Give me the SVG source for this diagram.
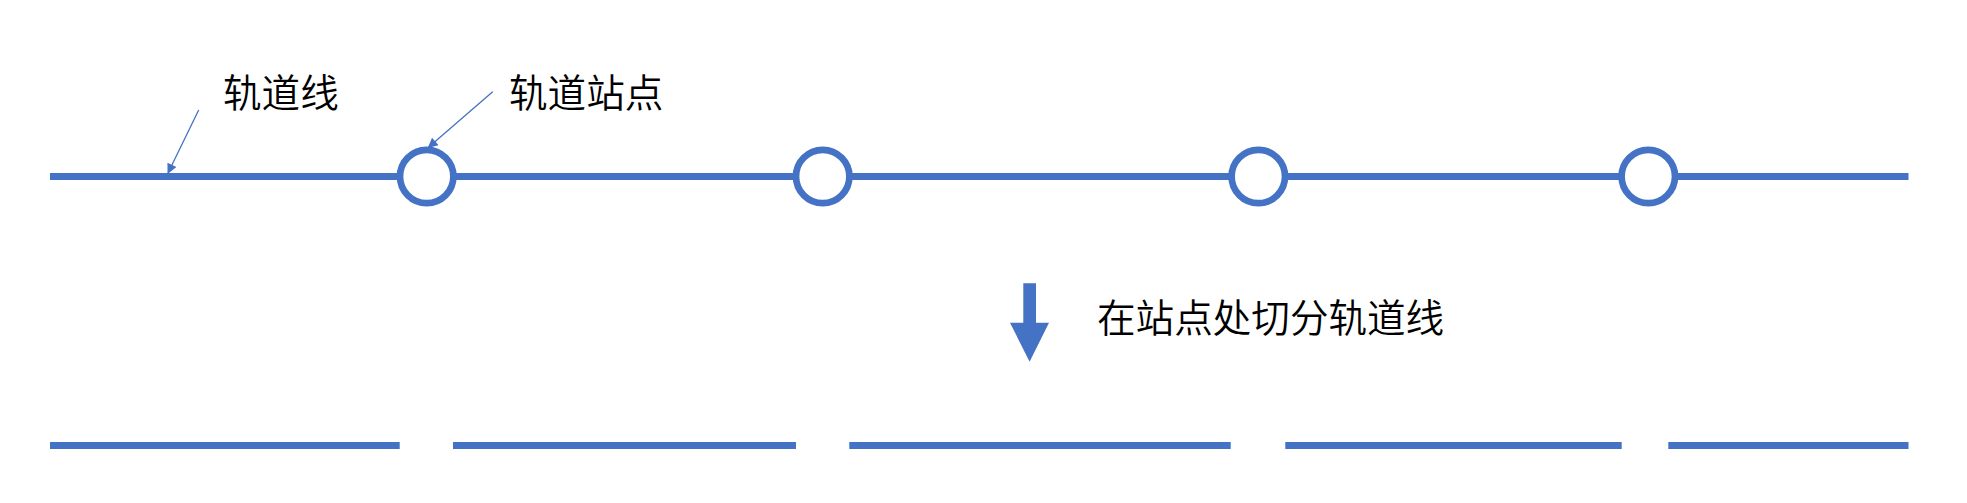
<svg xmlns="http://www.w3.org/2000/svg" width="1967" height="503" viewBox="0 0 1967 503">
<style>
.track{stroke:#4472C4;stroke-width:7;fill:none}
.station{stroke:#4472C4;stroke-width:6.7;fill:#FFFFFF}
.lead{stroke:#4472C4;stroke-width:1.3;fill:none}
.lbl{font-family:"Noto Sans CJK SC","Microsoft YaHei",sans-serif;font-size:38.6px;font-weight:350;fill:#000000}
</style>
<defs>
<marker id="ah" viewBox="0 0 10 10" refX="9" refY="5" markerWidth="12" markerHeight="10" markerUnits="userSpaceOnUse" orient="auto">
<path d="M0,0 L10,5 L0,10 Z" fill="#4472C4"/>
</marker>
</defs>
<rect width="1967" height="503" fill="#FFFFFF"/>
<g id="connectors">
<line class="track" x1="50" y1="176.5" x2="1908.5" y2="176.5"/>
<line class="lead" x1="198.7" y1="110" x2="168" y2="173" marker-end="url(#ah)"/>
<line class="lead" x1="492.7" y1="91.7" x2="428.5" y2="147.3" marker-end="url(#ah)"/>
</g>
<g id="station1"><circle class="station" cx="426.7" cy="176.5" r="26.7"/></g>
<g id="station2"><circle class="station" cx="822.7" cy="176.5" r="26.7"/></g>
<g id="station3"><circle class="station" cx="1258.3" cy="176.5" r="26.7"/></g>
<g id="station4"><circle class="station" cx="1648.3" cy="176.5" r="26.7"/></g>
<g id="label-track"><text class="lbl" x="223" y="107">轨道线</text></g>
<g id="label-station"><text class="lbl" x="509" y="107">轨道站点</text></g>
<g id="split-arrow"><path d="M1023.3,283.3 H1036 V322.7 H1049 L1029.6,361.7 L1010,322.7 H1023.3 Z" fill="#4472C4"/></g>
<g id="label-split"><text class="lbl" x="1097" y="332">在站点处切分轨道线</text></g>
<g id="segments">
<line class="track" x1="50" y1="445.5" x2="399.7" y2="445.5"/>
<line class="track" x1="453" y1="445.5" x2="796" y2="445.5"/>
<line class="track" x1="849.3" y1="445.5" x2="1230.7" y2="445.5"/>
<line class="track" x1="1285.3" y1="445.5" x2="1621.7" y2="445.5"/>
<line class="track" x1="1668.3" y1="445.5" x2="1908.5" y2="445.5"/>
</g>
</svg>
